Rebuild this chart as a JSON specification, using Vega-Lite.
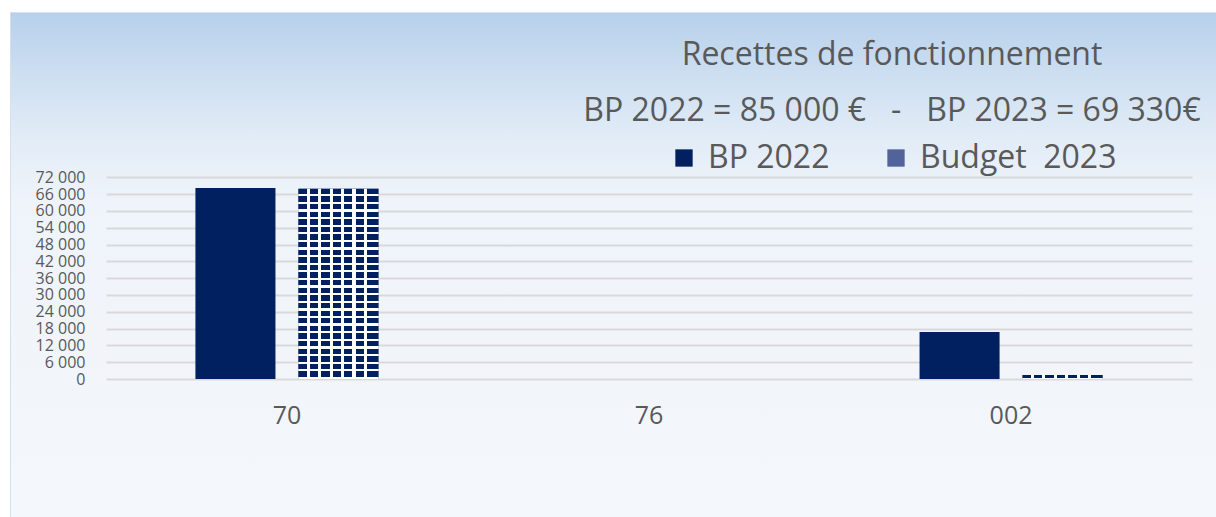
{
  "$schema": "https://vega.github.io/schema/vega-lite/v6.json",
  "width": 1206,
  "height": 505,
  "autosize": "none",
  "padding": {"left": 10, "top": 12, "right": 0, "bottom": 0},
  "background": "#ffffff",
  "title": {
    "text": "Recettes de fonctionnement",
    "subtitle": "BP 2022 = 85 000 €\u00a0\u00a0 - \u00a0\u00a0BP 2023 = 69 330€",
    "font": "Open Sans",
    "fontSize": 32,
    "fontWeight": "normal",
    "color": "#595959",
    "subtitleFont": "Open Sans",
    "subtitleFontSize": 32,
    "subtitleColor": "#595959",
    "subtitlePadding": 24,
    "anchor": "middle",
    "frame": "group",
    "dx": 279,
    "offset": -116
  },
  "data": {
    "values": [
      {"chapitre": "70", "serie": "BP 2022", "montant": 68200},
      {"chapitre": "70", "serie": "Budget 2023", "montant": 67900},
      {"chapitre": "76", "serie": "BP 2022", "montant": 0},
      {"chapitre": "76", "serie": "Budget 2023", "montant": 0},
      {"chapitre": "002", "serie": "BP 2022", "montant": 16800},
      {"chapitre": "002", "serie": "Budget 2023", "montant": 1430}
    ]
  },
  "encoding": {
    "x": {
      "field": "chapitre",
      "type": "nominal",
      "sort": ["70", "76", "002"],
      "scale": {"range": [96, 1182], "paddingInner": 0.4945, "paddingOuter": 0.247},
      "axis": {
        "orient": "bottom",
        "offset": -138,
        "title": null,
        "domain": false,
        "ticks": false,
        "grid": false,
        "labelAngle": 0,
        "labelFont": "Open Sans",
        "labelFontSize": 25,
        "labelColor": "#595959",
        "labelPadding": 24
      }
    },
    "xOffset": {
      "field": "serie",
      "type": "nominal",
      "sort": ["BP 2022", "Budget 2023"],
      "scale": {"paddingInner": 0.223, "paddingOuter": 0}
    },
    "y": {
      "field": "montant",
      "type": "quantitative",
      "scale": {"domain": [0, 72000], "range": [367, 165.3], "nice": false, "zero": true},
      "axis": {
        "orient": "left",
        "offset": -96,
        "title": null,
        "values": [0, 6000, 12000, 18000, 24000, 30000, 36000, 42000, 48000, 54000, 60000, 66000, 72000],
        "labelExpr": "replace(format(datum.value, ',d'), ',', ' ')",
        "domain": false,
        "ticks": false,
        "grid": true,
        "gridColor": "#d9d9d9",
        "gridWidth": 2,
        "labelFont": "Open Sans",
        "labelFontSize": 16,
        "labelColor": "#595959",
        "labelPadding": 21,
        "labelOverlap": false,
        "labelBaseline": "middle"
      }
    }
  },
  "layer": [
    {
      "mark": {"type": "bar"},
      "encoding": {
        "color": {
          "field": "serie",
          "type": "nominal",
          "scale": {"domain": ["BP 2022", "Budget 2023"], "range": ["#002060", "#51639a"]},
          "legend": {
            "title": null,
            "orient": "none",
            "legendX": 658,
            "legendY": 130,
            "padding": 0,
            "direction": "horizontal",
            "symbolType": "square",
            "symbolSize": 300,
            "symbolStrokeWidth": 0,
            "labelFont": "Open Sans",
            "labelFontSize": 32,
            "labelColor": "#595959",
            "labelOffset": 8,
            "columnPadding": 50,
            "labelLimit": 400,
            "labelExpr": "datum.label == 'Budget 2023' ? 'Budget\u00a0 2023' : datum.label"
          }
        }
      }
    },
    {
      "transform": [{"filter": "datum.serie === 'Budget 2023'"}],
      "mark": {
        "type": "bar",
        "fill": {
          "gradient": "linear", "x1": 0, "y1": 0, "x2": 0, "y2": 1,
          "stops": [
            {"offset": 0, "color": "#002060"}, {"offset": 0.028, "color": "#002060"}, {"offset": 0.028, "color": "#ffffff"}, {"offset": 0.04, "color": "#ffffff"},
            {"offset": 0.04, "color": "#002060"}, {"offset": 0.068, "color": "#002060"}, {"offset": 0.068, "color": "#ffffff"}, {"offset": 0.08, "color": "#ffffff"},
            {"offset": 0.08, "color": "#002060"}, {"offset": 0.108, "color": "#002060"}, {"offset": 0.108, "color": "#ffffff"}, {"offset": 0.12, "color": "#ffffff"},
            {"offset": 0.12, "color": "#002060"}, {"offset": 0.148, "color": "#002060"}, {"offset": 0.148, "color": "#ffffff"}, {"offset": 0.16, "color": "#ffffff"},
            {"offset": 0.16, "color": "#002060"}, {"offset": 0.188, "color": "#002060"}, {"offset": 0.188, "color": "#ffffff"}, {"offset": 0.2, "color": "#ffffff"},
            {"offset": 0.2, "color": "#002060"}, {"offset": 0.228, "color": "#002060"}, {"offset": 0.228, "color": "#ffffff"}, {"offset": 0.24, "color": "#ffffff"},
            {"offset": 0.24, "color": "#002060"}, {"offset": 0.268, "color": "#002060"}, {"offset": 0.268, "color": "#ffffff"}, {"offset": 0.28, "color": "#ffffff"},
            {"offset": 0.28, "color": "#002060"}, {"offset": 0.308, "color": "#002060"}, {"offset": 0.308, "color": "#ffffff"}, {"offset": 0.32, "color": "#ffffff"},
            {"offset": 0.32, "color": "#002060"}, {"offset": 0.348, "color": "#002060"}, {"offset": 0.348, "color": "#ffffff"}, {"offset": 0.36, "color": "#ffffff"},
            {"offset": 0.36, "color": "#002060"}, {"offset": 0.388, "color": "#002060"}, {"offset": 0.388, "color": "#ffffff"}, {"offset": 0.4, "color": "#ffffff"},
            {"offset": 0.4, "color": "#002060"}, {"offset": 0.428, "color": "#002060"}, {"offset": 0.428, "color": "#ffffff"}, {"offset": 0.44, "color": "#ffffff"},
            {"offset": 0.44, "color": "#002060"}, {"offset": 0.468, "color": "#002060"}, {"offset": 0.468, "color": "#ffffff"}, {"offset": 0.48, "color": "#ffffff"},
            {"offset": 0.48, "color": "#002060"}, {"offset": 0.508, "color": "#002060"}, {"offset": 0.508, "color": "#ffffff"}, {"offset": 0.52, "color": "#ffffff"},
            {"offset": 0.52, "color": "#002060"}, {"offset": 0.548, "color": "#002060"}, {"offset": 0.548, "color": "#ffffff"}, {"offset": 0.56, "color": "#ffffff"},
            {"offset": 0.56, "color": "#002060"}, {"offset": 0.588, "color": "#002060"}, {"offset": 0.588, "color": "#ffffff"}, {"offset": 0.6, "color": "#ffffff"},
            {"offset": 0.6, "color": "#002060"}, {"offset": 0.628, "color": "#002060"}, {"offset": 0.628, "color": "#ffffff"}, {"offset": 0.64, "color": "#ffffff"},
            {"offset": 0.64, "color": "#002060"}, {"offset": 0.668, "color": "#002060"}, {"offset": 0.668, "color": "#ffffff"}, {"offset": 0.68, "color": "#ffffff"},
            {"offset": 0.68, "color": "#002060"}, {"offset": 0.708, "color": "#002060"}, {"offset": 0.708, "color": "#ffffff"}, {"offset": 0.72, "color": "#ffffff"},
            {"offset": 0.72, "color": "#002060"}, {"offset": 0.748, "color": "#002060"}, {"offset": 0.748, "color": "#ffffff"}, {"offset": 0.76, "color": "#ffffff"},
            {"offset": 0.76, "color": "#002060"}, {"offset": 0.788, "color": "#002060"}, {"offset": 0.788, "color": "#ffffff"}, {"offset": 0.8, "color": "#ffffff"},
            {"offset": 0.8, "color": "#002060"}, {"offset": 0.828, "color": "#002060"}, {"offset": 0.828, "color": "#ffffff"}, {"offset": 0.84, "color": "#ffffff"},
            {"offset": 0.84, "color": "#002060"}, {"offset": 0.868, "color": "#002060"}, {"offset": 0.868, "color": "#ffffff"}, {"offset": 0.88, "color": "#ffffff"},
            {"offset": 0.88, "color": "#002060"}, {"offset": 0.908, "color": "#002060"}, {"offset": 0.908, "color": "#ffffff"}, {"offset": 0.92, "color": "#ffffff"},
            {"offset": 0.92, "color": "#002060"}, {"offset": 0.948, "color": "#002060"}, {"offset": 0.948, "color": "#ffffff"}, {"offset": 0.96, "color": "#ffffff"},
            {"offset": 0.96, "color": "#002060"}, {"offset": 0.988, "color": "#002060"}, {"offset": 0.988, "color": "#ffffff"}, {"offset": 1, "color": "#ffffff"}
          ]
        }
      }
    },
    {
      "transform": [{"filter": "datum.serie === 'Budget 2023'"}],
      "mark": {
        "type": "bar",
        "fill": {
          "gradient": "linear", "x1": 0, "y1": 0, "x2": 1, "y2": 0,
          "stops": [
            {"offset": 0, "color": "rgba(255,255,255,0)"}, {"offset": 0.102857, "color": "rgba(255,255,255,0)"}, {"offset": 0.102857, "color": "rgba(255,255,255,1)"}, {"offset": 0.142857, "color": "rgba(255,255,255,1)"},
            {"offset": 0.142857, "color": "rgba(255,255,255,0)"}, {"offset": 0.245714, "color": "rgba(255,255,255,0)"}, {"offset": 0.245714, "color": "rgba(255,255,255,1)"}, {"offset": 0.285714, "color": "rgba(255,255,255,1)"},
            {"offset": 0.285714, "color": "rgba(255,255,255,0)"}, {"offset": 0.388571, "color": "rgba(255,255,255,0)"}, {"offset": 0.388571, "color": "rgba(255,255,255,1)"}, {"offset": 0.428571, "color": "rgba(255,255,255,1)"},
            {"offset": 0.428571, "color": "rgba(255,255,255,0)"}, {"offset": 0.531429, "color": "rgba(255,255,255,0)"}, {"offset": 0.531429, "color": "rgba(255,255,255,1)"}, {"offset": 0.571429, "color": "rgba(255,255,255,1)"},
            {"offset": 0.571429, "color": "rgba(255,255,255,0)"}, {"offset": 0.674286, "color": "rgba(255,255,255,0)"}, {"offset": 0.674286, "color": "rgba(255,255,255,1)"}, {"offset": 0.714286, "color": "rgba(255,255,255,1)"},
            {"offset": 0.714286, "color": "rgba(255,255,255,0)"}, {"offset": 0.817143, "color": "rgba(255,255,255,0)"}, {"offset": 0.817143, "color": "rgba(255,255,255,1)"}, {"offset": 0.857143, "color": "rgba(255,255,255,1)"},
            {"offset": 0.857143, "color": "rgba(255,255,255,0)"}, {"offset": 1, "color": "rgba(255,255,255,0)"}
          ]
        }
      }
    }
  ],
  "config": {
    "font": "Open Sans",
    "view": {
      "stroke": "#d6dfeb",
      "strokeWidth": 1,
      "fill": {
        "gradient": "linear", "x1": 0, "y1": 0, "x2": 0, "y2": 1,
        "stops": [
          {"offset": 0, "color": "#b6d0ec"},
          {"offset": 0.1, "color": "#c9dcf0"},
          {"offset": 0.25, "color": "#e2ecf7"},
          {"offset": 0.38, "color": "#eff4fa"},
          {"offset": 1, "color": "#f4f7fb"}
        ]
      }
    }
  }
}
